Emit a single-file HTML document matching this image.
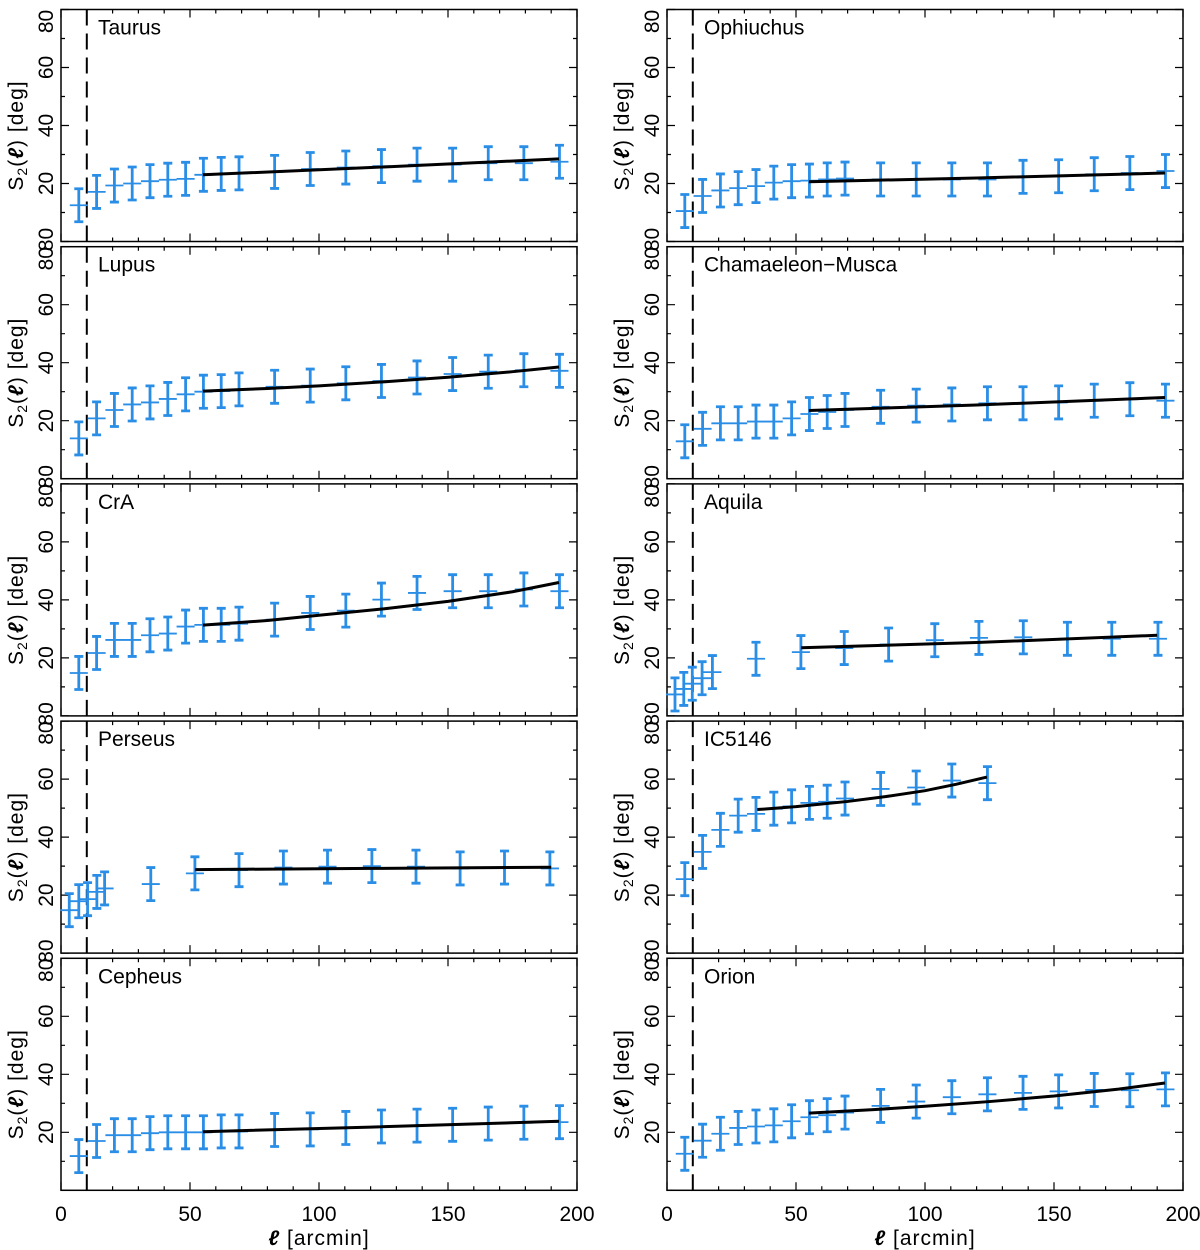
<!DOCTYPE html>
<html><head><meta charset="utf-8"><style>
html,body{margin:0;padding:0;background:#fff;}
svg{display:block;font-family:"Liberation Sans",sans-serif;}
</style></head><body>
<svg id="fig" width="1200" height="1250" viewBox="0 0 1200 1250" xmlns="http://www.w3.org/2000/svg"></svg>
<script>
// ---- data ----
const xGrid = [6.9,13.8,20.7,27.6,34.5,41.4,48.3,55.2,62.1,69,82.8,96.6,110.4,124.2,138,151.8,165.6,179.4,193.2];
const xAquila = [3.1,6.5,9.8,13.6,17.6,34.5,51.9,68.7,85.9,103.8,120.9,138.1,155.2,172.4,190.3];
const xPerseus = [3.2,6.9,10.3,13.9,16.9,34.8,51.9,69,86.2,103.3,120.5,137.6,154.7,171.9,189.5];
const xIC = [6.9,13.8,20.7,27.6,34.5,41.4,48.3,55.2,62.1,69,82.8,96.6,110.4,124.2];

const yTaurus = [12.5,17.1,19.3,20,20.8,21.3,21.6,23,23.3,23.5,24,25,25.5,26,26.5,26.5,27,27,27.5];
const yOph = [10.5,15.7,17.6,18.4,19.1,20.3,20.8,21,21.4,21.7,21.4,21.4,21.4,21.4,22.3,22.5,23.2,23.6,24.3];
const yLupus = [13.9,20.8,23.7,25.6,26.3,27.5,29.1,30,30.2,30.8,31.7,32.1,32.9,33.7,34.9,36.1,36.9,37.4,37.2];
const yCham = [12.9,17.2,19.1,19.1,19.7,19.7,20.8,22.3,23,23.7,24.8,25.2,25.6,26,26,26.3,26.9,27.4,26.9];
const yCrA = [14.8,21.7,26.2,26.2,27.8,28.4,30.8,31.4,31.4,31.8,33.2,35.5,36.3,40.1,42.4,43,43,43.6,43];
const yAquila = [7.4,9.3,11.1,13,15.1,19.7,22,23.4,24.6,26.1,26.9,27.1,26.6,26.6,26.6];
const yPerseus = [14.8,17.9,18.6,21.1,22.3,23.8,27.5,28.6,29.5,29.8,30,29.8,29.2,29.5,29.2];
const yIC = [25.5,34.9,42.5,47.4,48,49.8,50.6,51.8,52.2,53.3,56.6,57.1,59.5,58.6];
const yCepheus = [11.8,17,19,19,19.7,20,20,20,20.3,20.3,20.8,21,21.5,22,22.3,22.6,23,23.3,23.5];
const yOrion = [12.6,17.1,19.5,21.5,22,22.4,23.8,25.2,25.9,26.8,29.1,30.6,32.1,33.1,33.6,34.1,34.6,34.5,34.8];

const errStd = 5.7;

const fitXTaurus = [55,120,193], fitYTaurus = [23,25.5,28.5];
const fitXOph = [55,120,193], fitYOph = [20.6,21.9,23.6];
const fitXLupus = [55,80,100,125,150,175,193], fitYLupus = [30.2,31.1,32,33.4,35,36.9,38.5];
const fitXCham = [55,120,193], fitYCham = [23.5,25.4,28];
const fitXCrA = [55,80,100,125,150,175,193], fitYCrA = [31.3,32.9,34.7,36.9,39.5,42.8,46];
const fitXAquila = [52,120,190], fitYAquila = [23.5,25.3,27.8];
const fitXPerseus = [52,120,190], fitYPerseus = [28.8,29.2,29.6];
const fitXIC = [35,50,70,85,100,112,124], fitYIC = [49.5,50.5,52.3,54,56,58.2,60.7];
const fitXCepheus = [55,120,193], fitYCepheus = [20.2,21.8,23.8];
const fitXOrion = [55,80,100,125,150,175,193], fitYOrion = [26.6,27.8,29,30.6,32.5,34.9,37];

const yTicks = [20,40,60,80];
const xTicks = [0,50,100,150,200];

const panels = [
 {name:'Taurus',col:0,row:0,x:xGrid,y:yTaurus,fx:fitXTaurus,fy:fitYTaurus},
 {name:'Ophiuchus',col:1,row:0,x:xGrid,y:yOph,fx:fitXOph,fy:fitYOph},
 {name:'Lupus',col:0,row:1,x:xGrid,y:yLupus,fx:fitXLupus,fy:fitYLupus},
 {name:'Chamaeleon\u2212Musca',col:1,row:1,x:xGrid,y:yCham,fx:fitXCham,fy:fitYCham},
 {name:'CrA',col:0,row:2,x:xGrid,y:yCrA,fx:fitXCrA,fy:fitYCrA},
 {name:'Aquila',col:1,row:2,x:xAquila,y:yAquila,fx:fitXAquila,fy:fitYAquila},
 {name:'Perseus',col:0,row:3,x:xPerseus,y:yPerseus,fx:fitXPerseus,fy:fitYPerseus},
 {name:'IC5146',col:1,row:3,x:xIC,y:yIC,fx:fitXIC,fy:fitYIC},
 {name:'Cepheus',col:0,row:4,x:xGrid,y:yCepheus,fx:fitXCepheus,fy:fitYCepheus},
 {name:'Orion',col:1,row:4,x:xGrid,y:yOrion,fx:fitXOrion,fy:fitYOrion}
];

// ---- layout ----
const NS='http://www.w3.org/2000/svg';
const svg=document.getElementById('fig');
const colL=[61,667], W=516, H=232, top0=9.5, pitch=237.2;
const BLUE='#2a8ee6';
function mk(tag,attrs,parent){const e=document.createElementNS(NS,tag);for(const k in attrs)e.setAttribute(k,attrs[k]);(parent||svg).appendChild(e);return e;}

panels.forEach((p,pi)=>{
  const L=colL[p.col], T=top0+pitch*p.row;
  const sx=v=>L+v/200*W, sy=v=>T+H-v/80*H;
  const g=mk('g',{});
  
  
  const fr=mk('rect',{x:L,y:T,width:W,height:H,fill:'none',stroke:'#000','stroke-width':1.5},g);
  
  
  let d='';
  for(let v=0;v<=200;v+=10){const X=sx(v),len=(v%50===0)?8:4;d+=`M${X},${T+H}v${-len}M${X},${T}v${len}`;}
  for(let v=0;v<=80;v+=10){const Y=sy(v),len=(v%20===0)?8:4;d+=`M${L},${Y}h${len}M${L+W},${Y}h${-len}`;}
  const tk=mk('path',{d:d,stroke:'#000','stroke-width':1.2,fill:'none'},g);
  
  
  yTicks.forEach(v=>{
    const yy = v===80 ? T+12 : sy(v);
    const t=mk('text',{x:0,y:0,'font-size':21,'text-anchor':'middle',transform:`translate(${L-8},${yy}) rotate(-90)`},g);
    t.textContent=String(v);
    
    
  });
  if(p.row<4){
    const t=mk('text',{x:0,y:0,'font-size':21,'text-anchor':'middle',transform:`translate(${L-8},${T+H-2}) rotate(-90)`},g);
    t.textContent='80';
    
    
  }
  const yt=mk('text',{x:0,y:0,'font-size':21,'text-anchor':'middle','letter-spacing':'1',transform:`translate(${L-38},${T+H/2+10}) rotate(-90)`},g);
  yt.innerHTML='S<tspan font-size="14" dy="4">2</tspan><tspan dy="-4">(</tspan><tspan font-style="italic" font-weight="bold">ℓ</tspan>)  [deg]';
  
  
  const dl=mk('line',{x1:sx(10),x2:sx(10),y1:T,y2:T+H,stroke:'#000','stroke-width':2,'stroke-dasharray':'16,8'},g);
  
  
  const nm=mk('text',{x:L+37,y:T+25,'font-size':21},g);
  nm.textContent=p.name;
  
  
  p.x.forEach((xv,i)=>{
    const X=sx(xv), Y=sy(p.y[i]), Yt=sy(p.y[i]+errStd), Yb=sy(p.y[i]-errStd);
    const hw=3.5/200*W;
    const eb=mk('path',{d:`M${X},${Yt}V${Yb}M${X-4.5},${Yt}h9M${X-4.5},${Yb}h9`,stroke:BLUE,'stroke-width':2.8,fill:'none'},g);
    
    
    const hb=mk('line',{x1:X-hw,x2:X+hw,y1:Y,y2:Y,stroke:BLUE,'stroke-width':1.8},g);
    
    
  });
  const pts=p.fx.map((xv,i)=>sx(xv)+','+sy(p.fy[i])).join(' ');
  const fl=mk('polyline',{points:pts,fill:'none',stroke:'#000','stroke-width':3,'stroke-linejoin':'round'},g);
  
  
  if(p.row===4){
    xTicks.forEach(v=>{
      const t=mk('text',{x:sx(v),y:1221,'font-size':21,'text-anchor':'middle'},g);
      t.textContent=String(v);
      
      
    });
    const xt=mk('text',{x:L+W/2,y:1245,'font-size':21,'text-anchor':'middle','letter-spacing':'1'},g);
    xt.innerHTML='<tspan font-style="italic" font-weight="bold">ℓ</tspan>  [arcmin]';
    
    
  }
});
</script>
</body></html>
